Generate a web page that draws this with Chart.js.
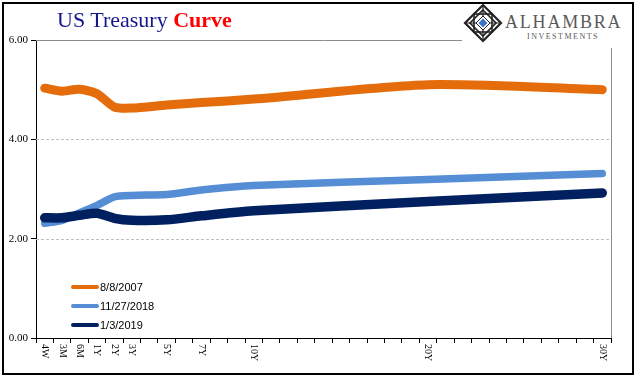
<!DOCTYPE html>
<html>
<head>
<meta charset="utf-8">
<script src="https://cdn.jsdelivr.net/npm/chart.js@4/dist/chart.umd.min.js"></script>
<style>
  html, body { margin: 0; padding: 0; background: #fff; overflow: hidden; }
  #wrap { position: relative; width: 641px; height: 381px; }
  #chartBox { position: absolute; left: 0; top: 0; width: 641px; height: 381px; }
  #frame { position: absolute; left: 2px; top: 2px; width: 632px; height: 373px; box-sizing: border-box; border: 2px solid #000; pointer-events: none; }
  #title { position: absolute; left: 57px; top: 8px; font-family: "Liberation Serif", "Times New Roman", serif; font-size: 22px; line-height: 24px; white-space: nowrap; }
  #title .a { color: #14168c; }
  #title .b { color: #ff0000; font-weight: bold; }
  #logo { position: absolute; left: 462px; top: 4px; width: 170px; height: 44px; background: #fff; }
  #logo svg { position: absolute; left: 1px; top: -1px; }
  #logo .name { position: absolute; left: 43px; top: 8px; font-family: "Liberation Serif", serif; font-size: 18px; line-height: 20px; color: #5a5a5a; letter-spacing: 1.8px; white-space: nowrap; }
  #logo .sub { position: absolute; left: 65px; top: 28px; font-family: "Liberation Serif", serif; font-size: 8px; line-height: 10px; color: #5a5a5a; letter-spacing: 1.5px; white-space: nowrap; }
  .leg { position: absolute; left: 71px; height: 14px; font-family: "Liberation Sans", Arial, sans-serif; font-size: 11px; line-height: 14px; color: #000; white-space: nowrap; }
  .leg .sw { position: absolute; left: 0; top: 5px; width: 28px; height: 4px; border-radius: 2px; }
  .leg .tx { position: absolute; left: 29px; top: 0; }
</style>
</head>
<body>
<div id="wrap">
  <div id="chartBox"><canvas id="c"></canvas></div>
  <div id="title"><span class="a">US Treasury </span><span class="b">Curve</span></div>
  <div id="logo">
    <svg width="40" height="40" viewBox="0 0 40 40">
      <polygon points="20,2 38,20 20,38 2,20" fill="none" stroke="#222" stroke-width="2.2"/>
      <polygon points="20,7 33,20 20,33 7,20" fill="none" stroke="#222" stroke-width="1.6"/>
      <rect x="11" y="11" width="18" height="18" fill="none" stroke="#222" stroke-width="1.6"/>
      <line x1="20" y1="2" x2="20" y2="38" stroke="#222" stroke-width="1.2"/>
      <line x1="2" y1="20" x2="38" y2="20" stroke="#222" stroke-width="1.2"/>
      <polygon points="20,13 27,20 20,27 13,20" fill="#fff" stroke="#222" stroke-width="1"/>
      <polygon points="20,15.5 24.5,20 20,24.5 15.5,20" fill="#3b74c4"/>
    </svg>
    <div class="name">ALHAMBRA</div>
    <div class="sub">INVESTMENTS</div>
  </div>
  <div id="legend"></div>
  <div id="frame"></div>
</div>
<script>
// ---- data ----
const categories = ['4W','3M','6M','1Y','2Y','3Y','','5Y','','7Y','','','10Y','','','','','','','','','','20Y','','','','','','','','','','30Y'];
const maturities = ['4W','3M','6M','1Y','2Y','3Y','5Y','7Y','10Y','20Y','30Y'];
const seriesNames = ['8/8/2007', '11/27/2018', '1/3/2019'];
const values2007 = [5.03, 4.97, 5.01, 4.92, 4.65, 4.63, 4.69, 4.74, 4.81, 5.10, 5.00];
const values2018 = [2.31, 2.37, 2.52, 2.67, 2.84, 2.87, 2.89, 2.98, 3.07, 3.19, 3.31];
const values2019 = [2.42, 2.42, 2.47, 2.51, 2.41, 2.37, 2.38, 2.46, 2.56, 2.75, 2.92];
const yTicks = [0, 2, 4, 6];

const seriesColors = ['#e46c0a', '#558ed5', '#002060'];
const seriesWidths = [9, 7.5, 9.5];
const seriesOrder = [1, 3, 2];

function toSlots(vals) {
  return categories.map(c => {
    const k = maturities.indexOf(c);
    return k >= 0 ? vals[k] : null;
  });
}
const allValues = [values2007, values2018, values2019];

// legend (HTML)
const legendTops = [280, 299, 318];
const legendEl = document.getElementById('legend');
seriesNames.forEach((n, i) => {
  const d = document.createElement('div');
  d.className = 'leg';
  d.style.top = legendTops[i] + 'px';
  d.innerHTML = '<div class="sw" style="background:' + seriesColors[i] + '"></div><div class="tx">' + n + '</div>';
  legendEl.appendChild(d);
});

const gridPlugin = {
  id: 'customGrid',
  beforeDatasetsDraw(chart) {
    const ctx = chart.ctx;
    const y = chart.scales.y;
    const a = chart.chartArea;
    ctx.save();
    yTicks.forEach(v => {
      if (v === 0) return;
      const py = Math.round(y.getPixelForValue(v)) + 0.5;
      ctx.beginPath();
      if (v === 6) { ctx.setLineDash([]); ctx.strokeStyle = '#8c8c8c'; }
      else { ctx.setLineDash([3, 2]); ctx.strokeStyle = '#c0c0c0'; }
      ctx.lineWidth = 1;
      ctx.moveTo(a.left, py);
      ctx.lineTo(a.right, py);
      ctx.stroke();
    });
    ctx.setLineDash([]);
    ctx.strokeStyle = '#8c8c8c';
    ctx.beginPath();
    ctx.moveTo(Math.round(a.right) + 0.5, a.top);
    ctx.lineTo(Math.round(a.right) + 0.5, a.bottom);
    ctx.stroke();
    ctx.restore();
  },
  afterDraw(chart) {
    const ctx = chart.ctx;
    const x = chart.scales.x;
    ctx.save();
    ctx.font = '10px "Liberation Serif", "Times New Roman", serif';
    ctx.fillStyle = '#000';
    ctx.textAlign = 'left';
    ctx.textBaseline = 'middle';
    categories.forEach((c, i) => {
      if (!c) return;
      const px = x.getPixelForValue(i);
      ctx.save();
      ctx.translate(px, x.top + 6);
      ctx.rotate(Math.PI / 2);
      ctx.fillText(c, 0, 0);
      ctx.restore();
    });
    ctx.restore();
  }
};

new Chart(document.getElementById('c'), {
  type: 'line',
  data: {
    labels: categories,
    datasets: seriesNames.map((n, i) => ({
      label: n,
      data: toSlots(allValues[i]),
      borderColor: seriesColors[i],
      backgroundColor: seriesColors[i],
      borderWidth: seriesWidths[i],
      borderCapStyle: 'round',
      borderJoinStyle: 'round',
      pointRadius: 0,
      tension: 0.25,
      spanGaps: true,
      fill: false,
      order: seriesOrder[i]
    }))
  },
  options: {
    responsive: true,
    maintainAspectRatio: false,
    animation: false,
    layout: { padding: { left: 0, right: 30, top: 40, bottom: 0 } },
    plugins: { legend: { display: false }, tooltip: { enabled: false }, title: { display: false } },
    scales: {
      x: {
        type: 'category',
        offset: true,
        grid: { offset: true, drawOnChartArea: false, drawTicks: true, tickLength: 5, color: '#000', lineWidth: 1 },
        border: { display: true, color: '#000', width: 1 },
        ticks: { display: false, autoSkip: false },
        afterFit(s) { s.height = 43; }
      },
      y: {
        min: 0, max: 6,
        grid: { drawOnChartArea: false, drawTicks: true, tickLength: 5, color: '#000', lineWidth: 1 },
        border: { display: true, color: '#000', width: 1 },
        ticks: {
          stepSize: 2, padding: 3, color: '#000',
          font: { family: '"Liberation Serif", "Times New Roman", serif', size: 11 },
          callback: v => Number(v).toFixed(2)
        },
        afterFit(s) { s.width = 36; }
      }
    }
  },
  plugins: [gridPlugin]
});
</script>
</body>
</html>
